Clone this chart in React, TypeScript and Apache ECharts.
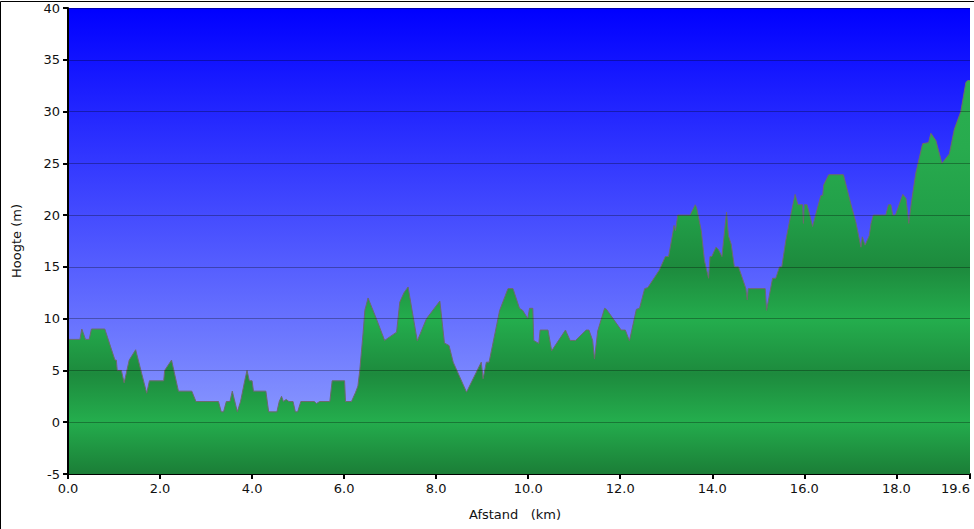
import React, { useEffect, useRef } from "react";
import * as echarts from "echarts";

const distanceKm: number[] = [
  0, 0.26, 0.3, 0.38, 0.46, 0.51, 0.8, 1.02, 1.05, 1.07, 1.16, 1.22, 1.33, 1.47, 1.71, 1.77,
  2.08, 2.1, 2.25, 2.4, 2.69, 2.78, 3.27, 3.33, 3.38, 3.44, 3.52, 3.57, 3.68, 3.75, 3.84, 3.89,
  3.94, 4.0, 4.03, 4.3, 4.36, 4.54, 4.59, 4.64, 4.68, 4.74, 4.8, 4.89, 4.94, 4.99, 5.06, 5.35,
  5.4, 5.47, 5.69, 5.74, 6.01, 6.03, 6.16, 6.25, 6.3, 6.34, 6.42, 6.45, 6.52, 6.7, 6.88, 7.14,
  7.21, 7.3, 7.39, 7.59, 7.79, 8.08, 8.18, 8.28, 8.37, 8.66, 8.77, 8.98, 9.02, 9.09, 9.15, 9.38,
  9.56, 9.67, 9.81, 9.88, 9.99, 10.03, 10.1, 10.12, 10.23, 10.26, 10.43, 10.51, 10.81, 10.91,
  11.03, 11.26, 11.32, 11.4, 11.44, 11.51, 11.66, 11.7, 12.02, 12.11, 12.2, 12.35, 12.42, 12.53,
  12.6, 12.85, 12.98, 13.05, 13.14, 13.17, 13.2, 13.25, 13.52, 13.63, 13.66, 13.76, 13.83, 13.92,
  13.95, 13.99, 14.08, 14.13, 14.21, 14.31, 14.35, 14.41, 14.48, 14.57, 14.73, 14.76, 14.78,
  15.15, 15.18, 15.31, 15.38, 15.46, 15.51, 15.6, 15.71, 15.8, 15.86, 15.96, 15.98, 16.0, 16.06,
  16.18, 16.25, 16.36, 16.4, 16.42, 16.53, 16.85, 17.01, 17.12, 17.23, 17.26, 17.32, 17.41,
  17.45, 17.5, 17.77, 17.83, 17.88, 17.92, 17.98, 18.14, 18.21, 18.27, 18.32, 18.42, 18.57,
  18.7, 18.75, 18.86, 18.99, 19.15, 19.26, 19.4, 19.51, 19.55, 19.6,
];

const elevationM: number[] = [
  8, 8, 9, 8, 8, 9, 9, 6, 6, 5, 5, 3.8, 6, 7, 2.8, 4,
  4, 5, 6, 3, 3, 2, 2, 1, 1, 2, 2, 3, 1, 2, 4, 5,
  4, 4, 3, 3, 1, 1, 2, 2.5, 2, 2.2, 2, 2, 1, 1, 2, 2,
  1.8, 2, 2, 4, 4, 2, 2, 2.9, 3.5, 5, 9, 10.8, 12, 10, 7.9, 8.7,
  11.6, 12.5, 13.06, 7.85, 10, 11.7, 7.65, 7.4, 5.8, 2.9, 3.9, 5.8, 4.2, 5.8, 5.8, 10.8,
  12.9, 12.9, 11, 10.8, 10, 11, 11, 7.9, 7.6, 8.9, 8.9, 6.9, 8.9, 7.9,
  7.9, 8.9, 8.9, 7.9, 6.1, 8.8, 11, 10.9, 8.9, 8.9, 7.85, 10.9, 11, 12.9,
  13, 14.7, 16, 16, 18.2, 19, 18.5, 20, 20, 21, 20.7, 18.5, 15.6, 13.9,
  16, 16, 16.9, 16.7, 16, 20.3, 18, 17.2, 15, 15, 12.9, 11.8, 12.9,
  12.9, 10.8, 13.9, 13.9, 15, 15, 17.6, 20.1, 22, 21, 21, 19.2, 21, 21,
  18.9, 20.1, 21.9, 21.9, 22.9, 23.9, 23.9, 21.1, 19.3, 16.9, 17.9, 17.1, 18,
  19.2, 20, 20, 21, 21, 20, 20, 22, 21.6, 19.2, 21, 24, 26.9,
  27, 27.9, 27.2, 25, 25.9, 28.3, 30, 32.8, 33, 33,
];

const xTickStep = 2;
const yTicks = { min: -5, max: 40, step: 5 };
const xRange = { min: 0, max: 19.6 };

const FONT = "'DejaVu Sans', Verdana, sans-serif";

export default function App() {
  const ref = useRef<HTMLDivElement>(null);

  useEffect(() => {
    document.body.style.margin = "0";
    if (!ref.current) return;
    const chart = echarts.init(ref.current, undefined, { renderer: "svg" });

    const data = distanceKm.map((d, i) => [d, elevationM[i]]);

    const areaGradient = new echarts.graphic.LinearGradient(
      0, 8, 0, 474,
      [
        { offset: 0, color: "#2cb352" },
        { offset: 0.3, color: "#28ab4e" },
        { offset: 0.44, color: "#22a049" },
        { offset: 0.556, color: "#1d8a3d" },
        { offset: 0.67, color: "#24ad4d" },
        { offset: 0.785, color: "#1d8a3d" },
        { offset: 0.886, color: "#24ad4d" },
        { offset: 1, color: "#1b7e37" },
      ],
      true
    );

    chart.setOption({
      animation: false,
      backgroundColor: "#ffffff",
      textStyle: { fontFamily: FONT },
      grid: {
        left: 68,
        top: 8,
        right: 4,
        bottom: 55,
        show: true,
        borderWidth: 0,
        outerBoundsMode: "none",
        containLabel: false,
        backgroundColor: new echarts.graphic.LinearGradient(0, 0, 0, 1, [
          { offset: 0, color: "#0000ff" },
          { offset: 1, color: "#9aaafe" },
        ]),
      },
      graphic: [
        {
          type: "rect",
          shape: { x: 0.5, y: 1.5, width: 1000, height: 600 },
          style: { fill: "none", stroke: "#000", lineWidth: 1 },
          silent: true,
          z: 100,
        },
      ],
      xAxis: {
        type: "value",
        min: xRange.min,
        max: xRange.max,
        interval: xTickStep,
        name: "Afstand   (km)",
        nameLocation: "middle",
        nameGap: 34,
        nameTextStyle: { color: "#111", fontSize: 13, fontFamily: FONT, padding: [0, 8, 0, 0] },
        axisLine: { show: true, onZero: false, lineStyle: { color: "#000", width: 2 } },
        axisTick: { show: true, length: 5, lineStyle: { color: "#000", width: 2 } },
        axisLabel: {
          color: "#111",
          fontSize: 13,
          fontFamily: FONT,
          margin: 8,
          showMaxLabel: true,
          alignMaxLabel: "right",
          formatter: (v: number) => v.toFixed(1),
        },
        splitLine: { show: false },
      },
      yAxis: {
        type: "value",
        min: yTicks.min,
        max: yTicks.max,
        interval: yTicks.step,
        z: 3,
        name: "Hoogte (m)",
        nameLocation: "middle",
        nameGap: 45,
        nameRotate: 90,
        nameTextStyle: { color: "#111", fontSize: 13, fontFamily: FONT },
        axisLine: { show: true, lineStyle: { color: "#000", width: 2 } },
        axisTick: { show: true, length: 5, lineStyle: { color: "#000", width: 2 } },
        axisLabel: { color: "#111", fontSize: 13, fontFamily: FONT, margin: 8 },
        splitLine: { show: true, lineStyle: { color: "rgba(0,0,0,0.3)", width: 1 } },
      },
      series: [
        {
          type: "line",
          data,
          showSymbol: false,
          symbol: "none",
          lineStyle: { color: "#6b6b6b", width: 1 },
          areaStyle: { color: areaGradient, opacity: 1, origin: "start" },
          z: 2,
        },
      ],
    });

    return () => chart.dispose();
  }, []);

  return <div ref={ref} style={{ width: 974, height: 529 }} />;
}
